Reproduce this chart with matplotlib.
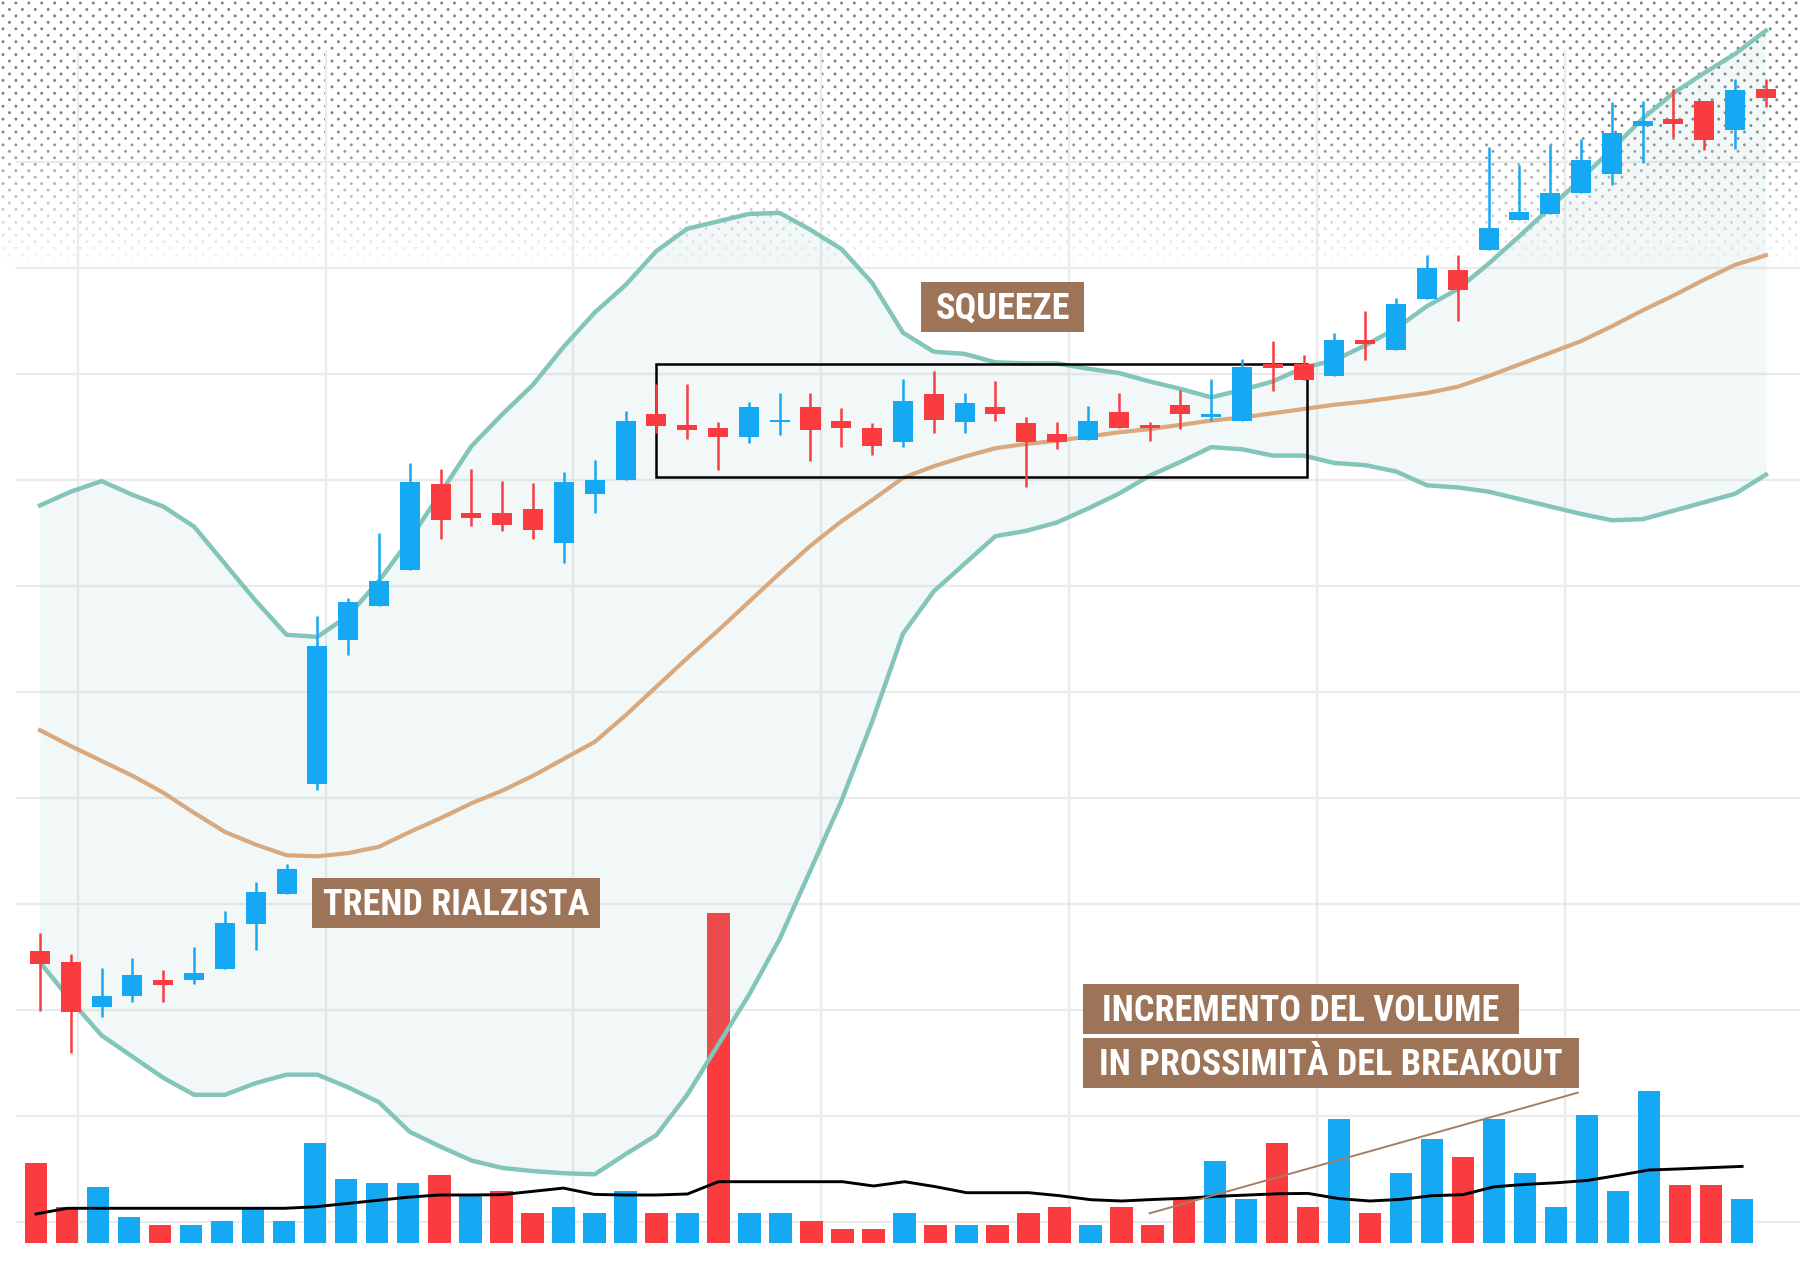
import numpy as np
import matplotlib.pyplot as plt
from matplotlib import font_manager
from matplotlib.patches import Rectangle

# price candles (one per session, price grid every 10 points)
opens = [25.6, 24.5, 20.3, 21.3, 22.8, 22.8, 23.9, 28.1, 30.9, 41.3,
         54.9, 58.1, 61.5, 69.6, 66.9, 66.9, 67.3, 64.1, 68.7, 70.0,
         76.2, 75.2, 74.9, 74.1, 75.5, 76.9, 75.6, 74.9, 73.6, 78.1,
         75.5, 76.9, 75.4, 74.3, 73.8, 76.4, 75.2, 77.1, 75.9, 75.6,
         80.9, 80.9, 79.8, 83.2, 82.3, 87.1, 89.8, 91.7, 94.5, 95.1,
         97.1, 98.9, 103.4, 104.1, 105.8, 103.0, 106.9]
highs = [27.3, 25.3, 24.0, 24.9, 23.8, 25.9, 29.3, 32.1, 33.8, 57.2,
         58.9, 65.0, 71.6, 71.0, 71.0, 69.9, 69.7, 70.8, 71.9, 76.5,
         79.1, 79.1, 75.5, 77.4, 78.2, 78.2, 76.8, 75.4, 79.5, 80.3,
         78.2, 79.3, 75.9, 75.5, 77.0, 78.2, 75.5, 78.5, 79.5, 81.4,
         83.1, 81.8, 83.9, 85.9, 87.2, 91.2, 91.2, 101.4, 99.7, 101.6,
         102.2, 105.7, 105.8, 106.9, 105.8, 107.8, 107.8]
lows = [19.9, 15.9, 19.3, 20.8, 20.8, 22.5, 23.9, 25.7, 30.9, 40.8,
        53.5, 58.1, 61.5, 64.4, 65.7, 65.2, 64.4, 62.2, 66.9, 70.0,
        74.4, 73.9, 70.9, 73.5, 74.2, 71.8, 73.1, 72.4, 73.1, 74.4,
        74.4, 75.6, 69.3, 72.9, 73.8, 74.9, 73.7, 74.8, 75.6, 75.6,
        78.4, 79.4, 79.8, 81.3, 82.3, 87.1, 85.0, 91.7, 94.5, 95.1,
        97.1, 97.8, 99.9, 102.4, 101.1, 101.2, 105.2]
closes = [24.3, 19.8, 21.3, 23.3, 22.4, 23.5, 28.2, 31.1, 33.3, 54.3,
          58.5, 60.5, 69.8, 66.2, 66.4, 65.8, 65.3, 69.8, 70.0, 75.6,
          75.1, 74.7, 74.1, 76.9, 75.6, 74.7, 74.9, 73.2, 77.5, 75.7,
          77.3, 76.2, 73.6, 73.6, 75.6, 74.9, 74.9, 76.2, 76.2, 80.7,
          80.6, 79.4, 83.2, 82.8, 86.6, 90.0, 87.9, 93.8, 95.3, 97.1,
          100.2, 102.7, 103.9, 103.6, 102.1, 106.8, 106.0]

# Bollinger bands
upper_band = [67.6, 68.9, 69.9, 68.6, 67.5, 65.6, 62.1, 58.6, 55.4, 55.2,
              57.2, 60.5, 64.4, 68.8, 73.2, 76.2, 79.0, 82.6, 85.8, 88.4,
              91.6, 93.7, 94.4, 95.1, 95.2, 93.6, 91.8, 88.6, 83.9, 82.1,
              81.9, 81.1, 81.0, 81.0, 80.5, 80.1, 79.3, 78.6, 77.8, 78.5,
              79.3, 80.6, 81.3, 82.7, 84.3, 86.4, 88.0, 90.4, 93.0, 95.7,
              98.4, 101.2, 104.1, 106.5, 108.4, 110.2, 112.4]
middle_band = [46.4, 44.9, 43.5, 42.1, 40.5, 38.6, 36.8, 35.6, 34.6, 34.5,
               34.8, 35.4, 36.8, 38.1, 39.5, 40.7, 42.1, 43.7, 45.3, 47.8,
               50.5, 53.2, 55.8, 58.5, 61.2, 63.8, 66.1, 68.1, 70.2, 71.3,
               72.2, 73.0, 73.4, 73.7, 74.1, 74.5, 74.8, 75.2, 75.6, 75.9,
               76.3, 76.7, 77.1, 77.4, 77.8, 78.2, 78.8, 79.8, 80.9, 82.0,
               83.1, 84.5, 86.0, 87.4, 88.9, 90.3, 91.2]
lower_band = [24.5, 20.9, 17.6, 15.6, 13.6, 12.0, 12.0, 13.1, 13.9, 13.9,
              12.7, 11.3, 8.5, 7.1, 5.8, 5.1, 4.8, 4.6, 4.5, 6.4,
              8.2, 12.0, 16.7, 21.4, 26.7, 33.2, 39.7, 47.2, 55.5, 59.5,
              62.1, 64.7, 65.2, 66.0, 67.3, 68.7, 70.4, 71.7, 73.1, 72.9,
              72.3, 72.3, 71.6, 71.4, 70.8, 69.5, 69.3, 68.9, 68.2, 67.5,
              66.8, 66.2, 66.3, 67.1, 67.9, 68.7, 70.5]

# volume (thousands) and its moving average
volume = [800, 360, 560, 260, 180, 180, 220, 360, 220, 1000,
          640, 600, 600, 680, 480, 520, 300, 360, 300, 520,
          300, 300, 3300, 300, 300, 220, 140, 140, 300, 180,
          180, 180, 300, 360, 180, 360, 180, 440, 820, 440,
          1000, 360, 1240, 300, 700, 1040, 860, 1240, 700, 360,
          1280, 520, 1520, 580, 580, 440]
volume_side = list("RRBBRBBBBBBBBRBRRBBBRBRBBRRRBRBRRRBRRRBBRRBRBBRBBBBBBRRB")
volume_ma = [290, 347, 347, 347, 347, 347, 347, 347, 347, 362,
             394, 426, 458, 480, 480, 483, 516, 549, 486, 480,
             480, 490, 613, 613, 613, 613, 613, 570, 613, 563,
             503, 503, 503, 473, 433, 420, 435, 447, 466, 479,
             492, 496, 444, 420, 436, 473, 483, 562, 586, 602,
             625, 676, 730, 741, 754, 766]
volume_trend = ([35.9, 49.7], [297, 1503])

squeeze_start, squeeze_end = 20, 41.1
squeeze_low, squeeze_high = 70.3, 80.9

BLUE = "#16a9f3"
RED = "#fa3c41"
TEAL = "#83c5b8"
TAN = "#d9a87d"
BROWN = "#9e7458"
GRID = "#ebebeb"

installed = {f.name for f in font_manager.fontManager.ttflist}
label_font = [f for f in ["Roboto Condensed", "Roboto", "Lato"] if f in installed][:1] + ["DejaVu Sans"]
label_size = 26 if label_font[0] == "Roboto Condensed" else 23

fig = plt.figure(figsize=(18, 12.88), dpi=100)
ax_bg = fig.add_axes([0, 0, 1, 1], zorder=0)
ax_vol = fig.add_axes([0, 0, 1, 1], zorder=1)
ax = fig.add_axes([0, 0, 1, 1], zorder=2)
for a in (ax_bg, ax_vol, ax):
    a.set_axis_off()

xlim = (-1.298, 57.106)
ylim = (-6.226, 115.283)

# dotted halftone band at the top
step = 6.45
dx, dy = [], []
for k, yy in enumerate(np.arange(3, 272, step)):
    xs = np.arange(3 + (k % 2) * step, 1800, 2 * step)
    dx.extend(xs)
    dy.extend([yy] * len(xs))
dx = np.array(dx)
dy = np.array(dy)
fade = np.clip((270 - dy) / 150, 0, 1)
dot_colors = np.zeros((len(dx), 4))
dot_colors[:, :3] = 0.5
dot_colors[:, 3] = fade
ax_bg.scatter(dx / 1800, 1 - dy / 1288, s=4.5, c=dot_colors, linewidths=0,
              transform=ax_bg.transAxes)

# grid
ax_bg.hlines(np.arange(0, 101, 10), -0.795, xlim[1], color=GRID, lw=1.6)
ax_bg.vlines(1.226 + 8.04 * np.arange(7), -1.98, 110.6, color=GRID, lw=1.6)
ax_bg.set_xlim(xlim)
ax_bg.set_ylim(ylim)

# volume panel
j = np.arange(len(volume))
vcol = [BLUE if s == "B" else RED for s in volume_side]
ax_vol.bar(j, volume, 0.725, color=vcol, zorder=2)
ax_vol.plot(j, volume_ma, color="black", lw=2.1, zorder=3)
ax_vol.plot(volume_trend[0], volume_trend[1], color="#a47d62", lw=1.4, zorder=4)
ax_vol.set_xlim(-1.1605, 56.866)
ax_vol.set_ylim(-450, 12430)

# bands
x = np.arange(len(opens))
ax.fill_between(x, lower_band, upper_band, color=TEAL, alpha=0.11, lw=0, zorder=1)
ax.plot(x, upper_band, color=TEAL, lw=3.2, zorder=2, solid_joinstyle="round")
ax.plot(x, lower_band, color=TEAL, lw=3.2, zorder=2, solid_joinstyle="round")
ax.plot(x, middle_band, color=TAN, lw=3.0, zorder=2, solid_joinstyle="round")

ax.add_patch(Rectangle((squeeze_start, squeeze_low), squeeze_end - squeeze_start,
                       squeeze_high - squeeze_low, fill=False, ec="black", lw=1.8, zorder=3))

# candles
o = np.array(opens)
c = np.array(closes)
up = c >= o
ccol = [BLUE if u else RED for u in up]
ax.vlines(x, lows, highs, colors=ccol, lw=1.8, zorder=4)
body = np.maximum(np.abs(c - o), 0.2)
ax.bar(x, body, 0.65, bottom=np.minimum(o, c), color=ccol, zorder=5)


def label(x0, x1, y0, y1, text):
    ax.add_patch(Rectangle((x0, y0), x1 - x0, y1 - y0, fc=BROWN, ec="none", zorder=6))
    ax.text((x0 + x1) / 2, y0 + 0.26 * (y1 - y0), text, ha="center", va="baseline",
            color="white", fontsize=label_size, fontweight="bold",
            family=label_font, zorder=7)


label(28.6, 33.86, 84.0, 88.7, "SQUEEZE")
label(8.83, 18.16, 27.76, 32.45, "TREND RIALZISTA")
label(33.84, 47.98, 17.76, 22.45, "INCREMENTO DEL VOLUME")
label(33.84, 49.92, 12.67, 17.36, "IN PROSSIMITÀ DEL BREAKOUT")

ax.set_xlim(xlim)
ax.set_ylim(ylim)

fig.savefig("out.png", dpi=100)
plt.close(fig)
